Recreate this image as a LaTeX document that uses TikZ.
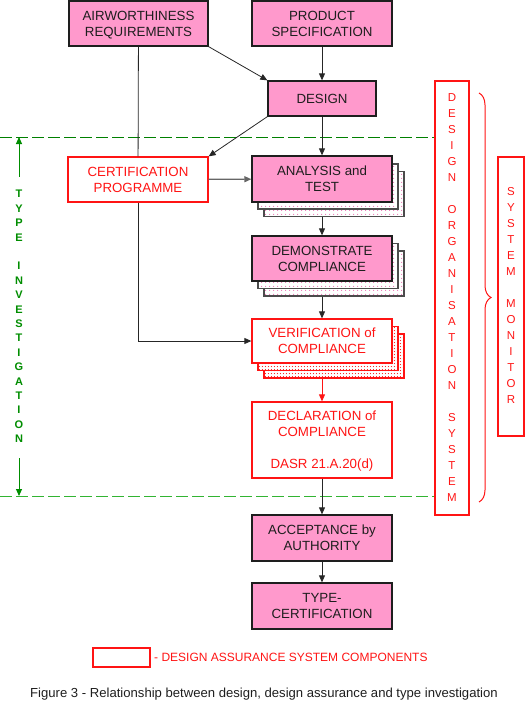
\documentclass[tikz,border=0pt]{standalone}
\usepackage{fontspec}
\setmainfont{Liberation Sans}
\usetikzlibrary{arrows.meta,patterns,decorations.pathreplacing}
\usetikzlibrary{positioning}

\definecolor{rose}{RGB}{255,153,204}
\definecolor{rosepoint}{RGB}{235,120,180}
\definecolor{rouge}{RGB}{255,20,20}
\definecolor{vertfonce}{RGB}{0,128,0}
\definecolor{vertclair}{RGB}{50,180,50}
\definecolor{texte}{RGB}{30,30,30}

\newcommand{\policeboite}{\fontsize{13.3}{16}\selectfont}
\newcommand{\policelettre}{\fontsize{11.5}{16}\selectfont}

% motifs de points pour les ombres
\pgfdeclarepatternformonly{pointsrose}{\pgfqpoint{0pt}{0pt}}{\pgfqpoint{4pt}{4pt}}{\pgfqpoint{4pt}{4pt}}{\pgfpathcircle{\pgfqpoint{2pt}{2pt}}{0.65pt}\pgfusepath{fill}}
\pgfdeclarepatternformonly{pointsrouge}{\pgfqpoint{0pt}{0pt}}{\pgfqpoint{3.4pt}{3.4pt}}{\pgfqpoint{3.4pt}{3.4pt}}{\pgfpathcircle{\pgfqpoint{1.7pt}{1.7pt}}{0.65pt}\pgfusepath{fill}}

\tikzset{
	boiterose/.style={rectangle,draw=texte,line width=1.3pt,fill=rose,minimum width=140pt,minimum height=45pt,inner sep=0pt,align=center,text depth=0pt,font=\policeboite,text=texte},
	boiterouge/.style={rectangle,draw=rouge,line width=1.3pt,fill=white,minimum width=140pt,minimum height=45pt,inner sep=0pt,align=center,text depth=0pt,font=\policeboite,text=rouge},
	copierose/.style={rectangle,draw=black!70,line width=1.2pt,preaction={fill=white},pattern=pointsrose,pattern color=rosepoint,minimum width=140pt,minimum height=45pt},
	copierouge/.style={rectangle,draw=rouge,line width=1.2pt,preaction={fill=white},pattern=pointsrouge,pattern color=rouge,minimum width=140pt,minimum height=44pt},
	fleche/.style={-{Triangle[length=7pt,width=6pt]},line width=0.8pt,draw=black!85},
	trait/.style={line width=0.8pt,draw=black!85},
	pointilles/.style={line width=0.9pt,dash pattern=on 12pt off 4pt}
}

\begin{document}
\begin{tikzpicture}[x=1pt,y=-1pt]
	\useasboundingbox (0,0) rectangle (529,704);
	% lignes de la phase d'investigation
	\coordinate (HAUT) at (0,137);
	\coordinate (BAS) at (0,496);
	% copies en ombre (dessinées avant les boîtes)
	\node (ANA3) at (334,194) [copierose] {};
	\node (ANA2) at (328,186.5) [copierose] {};
	\node (DEM3) at (334,273.5) [copierose] {};
	\node (DEM2) at (328,266) [copierose] {};
	\node (VER3) at (334,356) [copierouge] {};
	\node (VER2) at (328,348.5) [copierouge] {};
	% boîtes principales
	\node (AIR) at (138.5,23.5) [boiterose,minimum width=139pt] {AIRWORTHINESS\\REQUIREMENTS};
	\node (PROD) at (322,23.5) [boiterose] {PRODUCT\\SPECIFICATION};
	\node (DES) at (322,98.5) [boiterose,minimum width=108pt,minimum height=35pt] {DESIGN};
	\node (CERT) at (138,179.5) [boiterouge] {CERTIFICATION\\PROGRAMME};
	\node (ANA) at (322,179) [boiterose,minimum height=46pt] {ANALYSIS and\\TEST};
	\node (DEM) at (322,258.5) [boiterose] {DEMONSTRATE\\COMPLIANCE};
	\node (VER) at (322,341) [boiterouge,minimum height=44pt] {VERIFICATION of\\COMPLIANCE};
	\node (DEC) at (322,440) [boiterouge,minimum height=76pt] {DECLARATION of\\COMPLIANCE\\[16pt]DASR 21.A.20(d)};
	\node (ACC) at (322,538) [boiterose,minimum height=46pt] {ACCEPTANCE by\\AUTHORITY};
	\node (TYP) at (322,606) [boiterose,minimum height=46pt] {TYPE-\\CERTIFICATION};
	% systèmes à droite
	\node (DOS) at (452,298) [rectangle,draw=rouge,line width=1.2pt,minimum width=34pt,minimum height=434pt,inner sep=0pt,font=\policelettre,text=rouge] {\begin{tabular}{c}D\\E\\S\\I\\G\\N\\ \\O\\R\\G\\A\\N\\I\\S\\A\\T\\I\\O\\N\\ \\S\\Y\\S\\T\\E\\M\end{tabular}};
	\node (SM) at (511,296.5) [rectangle,draw=rouge,line width=1.2pt,minimum width=26pt,minimum height=279pt,inner sep=0pt,font=\policelettre,text=rouge] {\begin{tabular}{c}S\\Y\\S\\T\\E\\M\\ \\M\\O\\N\\I\\T\\O\\R\end{tabular}};
	\coordinate (ACH) at (479,93);
	\coordinate (ACB) at (479,502);
	\draw[rouge,line width=1pt,decorate,decoration={brace,amplitude=12pt}] (ACH) -- (ACB);
	% investigation de type
	\node (TI) at (19,317.5) [inner xsep=0pt,inner ysep=11pt,font=\fontsize{11}{14.4}\selectfont\bfseries,text=vertfonce!90!green] {\begin{tabular}{@{}c@{}}T\\Y\\P\\E\\ \\I\\N\\V\\E\\S\\T\\I\\G\\A\\T\\I\\O\\N\end{tabular}};
	\draw[vertfonce!90!green,line width=0.9pt,-{Triangle[length=7pt,width=6pt]}] (TI.north) -- (TI.north |- HAUT);
	\draw[vertfonce!90!green,line width=0.9pt,-{Triangle[length=7pt,width=6pt]}] (TI.south) -- (TI.south |- BAS);
	\draw[pointilles,vertfonce] (HAUT) -- (HAUT -| DOS.west);
	\draw[pointilles,vertclair] (BAS) -- (BAS -| DOS.west);
	% liaisons
	\draw[fleche] (AIR.south east) -- (DES.north west);
	\draw[fleche] (PROD) -- (DES);
	\draw[fleche] (DES.south west) -- (CERT.north east);
	\draw[fleche] (DES) -- (ANA);
	\draw[trait] (AIR) -- (CERT);
	\draw[fleche] (CERT.south) |- (VER.west);
	\draw[fleche,draw=black!60,line width=1.3pt] (CERT) -- (ANA);
	\draw[fleche] (ANA3.south -| ANA.south) -- (DEM);
	\draw[fleche] (DEM3.south -| DEM.south) -- (VER);
	\draw[fleche,draw=rouge,fill=rouge] (VER3.south -| VER.south) -- (DEC);
	\draw[fleche] (DEC) -- (ACC);
	\draw[fleche] (ACC) -- (TYP);
	% légende
	\node (LEG) at (121.5,657.5) [rectangle,draw=rouge,line width=1.3pt,minimum width=57pt,minimum height=19pt] {};
	\node (LEGT) [right=0pt of LEG,font=\fontsize{12}{14}\selectfont,text=rouge] {- DESIGN ASSURANCE SYSTEM COMPONENTS};
	\node (TITRE) at (264,694) [font=\fontsize{13.1}{15}\selectfont,text=texte] {Figure 3 - Relationship between design, design assurance and type investigation};
\end{tikzpicture}
\end{document}
